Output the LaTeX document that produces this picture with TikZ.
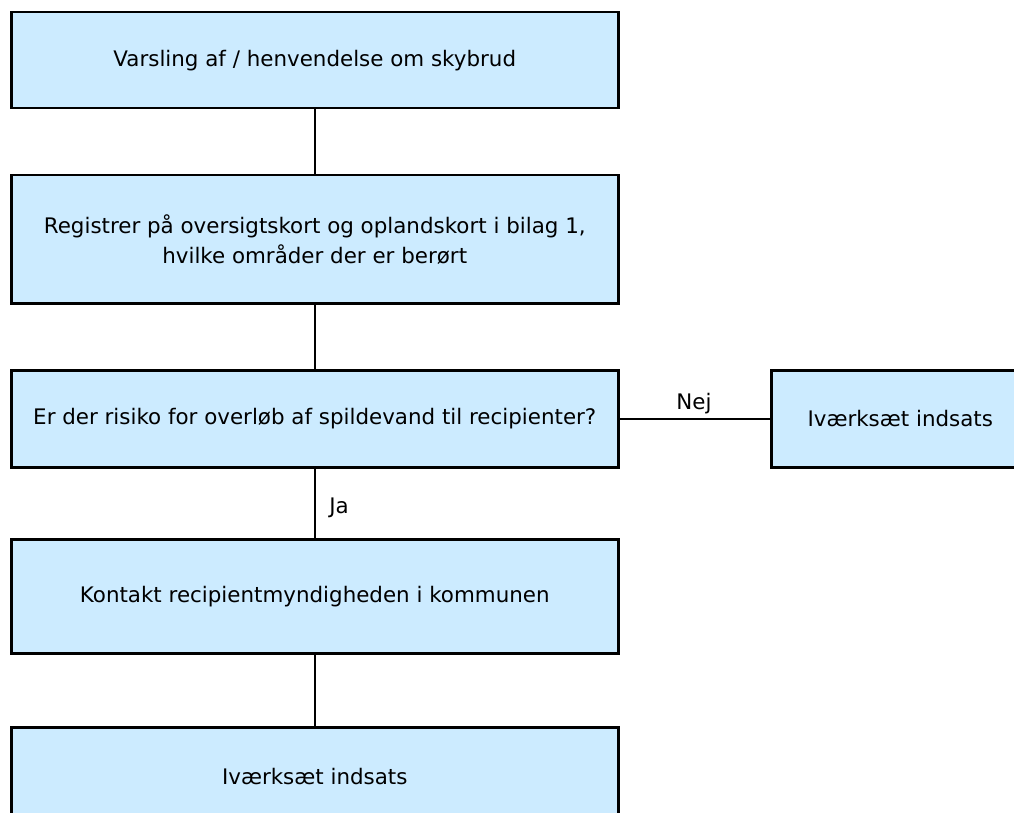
\documentclass[tikz,border=0pt]{standalone}
\usepackage{fontspec}
\setmainfont{DejaVu Sans}
\definecolor{boxfill}{HTML}{CCEBFF}
\begin{document}
\begin{tikzpicture}[x=1pt,y=-1pt,
  box/.style={draw=black, line width=2.5pt, fill=boxfill, anchor=north west, align=center,
    font=\fontsize{21.4}{30}\selectfont, inner sep=0pt},
  conn/.style={draw=black, line width=2.5pt},
  lbl/.style={font=\fontsize{21.4}{24}\selectfont, inner sep=0pt}]
\useasboundingbox (0,0) rectangle (1014,813);
\node[box, minimum width=607pt, minimum height=96pt] (b1) at (10,11) {Varsling af / henvendelse om skybrud};
\node[box, minimum width=607pt, minimum height=128pt] (b2) at (10,174) {Registrer på oversigtskort og oplandskort i bilag 1,\\hvilke områder der er berørt};
\node[box, minimum width=607pt, minimum height=97pt] (b3) at (10,369) {Er der risiko for overløb af spildevand til recipienter?};
\node[box, minimum width=258pt, minimum height=97pt] (b4) at (770,369) {Iværksæt indsats};
\node[box, minimum width=607pt, minimum height=114pt] (b5) at (10,538) {Kontakt recipientmyndigheden i kommunen};
\node[box, minimum width=607pt, minimum height=98pt] (b6) at (10,726) {Iværksæt indsats};
\draw[conn] (b1) -- (b2);
\draw[conn] (b2) -- (b3);
\draw[conn] (b3) -- (b5);
\draw[conn] (b5) -- (b6);
\draw[conn] (b3.east) -- (b4.west);
\node[lbl] (nej) at (694,404) {Nej};
\node[lbl] (ja) at (339,508) {Ja};
\end{tikzpicture}
\end{document}
